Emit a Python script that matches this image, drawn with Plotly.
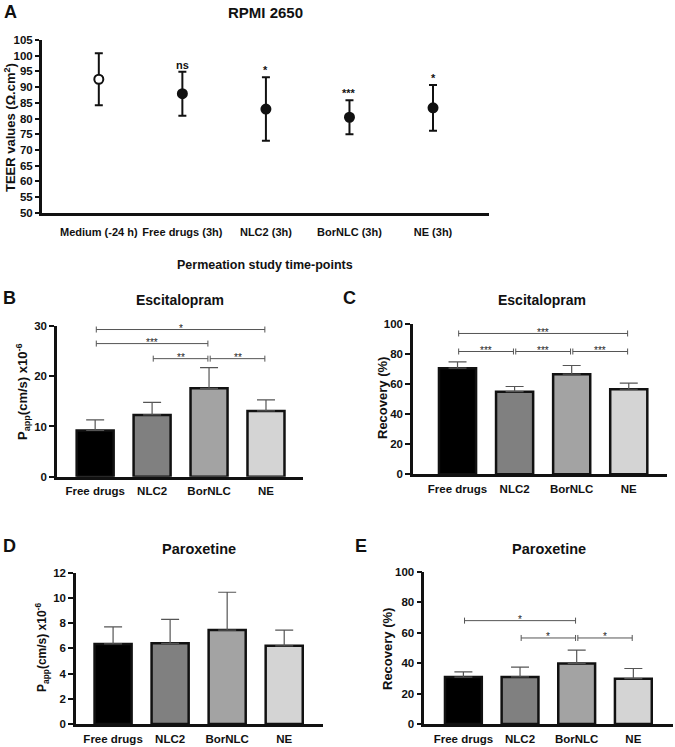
import plotly.graph_objects as go

W, H = 675, 747

# ---- data ----
teer_cats = ["Medium (-24 h)", "Free drugs (3h)", "NLC2 (3h)", "BorNLC (3h)", "NE (3h)"]
teer_mean = [92.5, 87.9, 83.0, 80.4, 83.4]
teer_sd = [8.3, 7.0, 10.1, 5.4, 7.3]
teer_sig = ["", "ns", "*", "***", "*"]

groups = ["Free drugs", "NLC2", "BorNLC", "NE"]

esc_papp_mean = [9.2, 12.3, 17.6, 13.1]
esc_papp_sd = [2.1, 2.5, 4.1, 2.2]
esc_papp_comps = [(0, 3, 29.3, "*"), (0, 2, 26.5, "***"), (1, 2, 23.5, "**"), (2, 3, 23.5, "**")]

esc_rec_mean = [70.6, 55.0, 66.6, 56.6]
esc_rec_sd = [4.2, 3.4, 5.8, 4.0]
esc_rec_comps = [(0, 3, 93.7, "***"), (0, 1, 81.7, "***"), (1, 2, 81.7, "***"), (2, 3, 81.7, "***")]

par_papp_mean = [6.35, 6.4, 7.45, 6.2]
par_papp_sd = [1.35, 1.9, 3.0, 1.25]
par_papp_comps = []

par_rec_mean = [30.9, 31.0, 39.8, 29.8]
par_rec_sd = [3.4, 6.4, 8.8, 6.7]
par_rec_comps = [(0, 2, 68.0, "*"), (1, 2, 56.6, "*"), (2, 3, 56.6, "*")]

bar_colors = ["#000000", "#808080", "#a3a3a3", "#d4d4d4"]

ARIAL = "Arial, Liberation Sans, sans-serif"
INK = "#111111"


def px_x(p):
    return p / W


def px_y(p):
    return 1 - p / H


fig = go.Figure()

# ---- panel A ----
fig.add_trace(go.Scatter(
    x=teer_cats, y=teer_mean, mode="markers", xaxis="x", yaxis="y",
    error_y=dict(type="data", array=teer_sd, color=INK, thickness=2, width=4),
    marker=dict(size=9, color=["white"] + [INK] * 4, line=dict(color=INK, width=2)),
    showlegend=False,
))
for c, m, s, t in zip(teer_cats, teer_mean, teer_sd, teer_sig):
    if t:
        fig.add_annotation(x=c, y=m + s, xref="x", yref="y", text=t, showarrow=False,
                           yanchor="middle", yshift=7,
                           font=dict(family=ARIAL, size=11, color=INK, weight="bold"))

# ---- bar panels ----
panels = [
    ("2", esc_papp_mean, esc_papp_sd, esc_papp_comps),
    ("3", esc_rec_mean, esc_rec_sd, esc_rec_comps),
    ("4", par_papp_mean, par_papp_sd, par_papp_comps),
    ("5", par_rec_mean, par_rec_sd, par_rec_comps),
]

for n, mean, sd, comps in panels:
    fig.add_trace(go.Bar(
        x=groups, y=mean, xaxis="x" + n, yaxis="y" + n, width=0.65,
        marker=dict(color=bar_colors, line=dict(color=INK, width=2.5)),
        error_y=dict(type="data", array=sd, arrayminus=[0] * len(sd), symmetric=False,
                     color="#555555", thickness=1.2, width=9),
        showlegend=False,
    ))
    g = 0.02
    for i, j, lev, lab in comps:
        xa, xb = i + g, j - g
        fig.add_shape(type="line", xref="x" + n, yref="y" + n, x0=xa, x1=xb, y0=lev, y1=lev,
                      line=dict(color="#555555", width=1))
        for xe in (xa, xb):
            fig.add_shape(type="line", xref="x" + n, yref="y" + n, ysizemode="pixel", yanchor=lev,
                          x0=xe, x1=xe, y0=-3, y1=3, line=dict(color="#555555", width=1))
        fig.add_annotation(x=(i + j) / 2, y=lev, xref="x" + n, yref="y" + n, text=lab,
                           showarrow=False, yanchor="middle", yshift=1,
                           font=dict(family=ARIAL, size=10, color="#222222"))

# ---- axes ----
yax_common = dict(ticks="outside", tickwidth=2, tickcolor=INK, showline=True,
                  linecolor=INK, showgrid=False, zeroline=False, automargin=False)
xax_common = dict(ticks="", showline=True, linecolor=INK, showgrid=False, zeroline=False,
                  automargin=False, tickangle=0)
bar_font = dict(family=ARIAL, size=11.5, color=INK, weight="bold")

layout_axes = dict(
    xaxis=dict(domain=[px_x(42), px_x(489)], anchor="y", range=[-0.68, 4.67], linewidth=3,
               tickfont=dict(family=ARIAL, size=11, color=INK, weight="bold"),
               ticklabelstandoff=7, **xax_common),
    yaxis=dict(domain=[px_y(212.7), px_y(40)], anchor="x", range=[50, 105], dtick=5,
               linewidth=3, ticklen=4,
               tickfont=dict(family=ARIAL, size=11.5, color=INK, weight="bold"),
               **yax_common),
)

bar_boxes = {
    "2": ((57, 303), (326, 476.7), [-0.67, 3.65], [0, 30], 10),
    "3": ((413, 667), (324, 474.3), [-0.78, 3.67], [0, 100], 20),
    "4": ((76, 323), (572.7, 724), [-0.65, 3.68], [0, 12], 2),
    "5": ((424.3, 673), (572, 724), [-0.69, 3.70], [0, 100], 20),
}
for n, (xs, ys, xr, yr, dt) in bar_boxes.items():
    layout_axes["xaxis" + n] = dict(domain=[px_x(xs[0]), px_x(xs[1])], anchor="y" + n, range=xr,
                                    linewidth=2.5, tickfont=bar_font, ticklabelstandoff=2,
                                    **xax_common)
    layout_axes["yaxis" + n] = dict(domain=[px_y(ys[1]), px_y(ys[0])], anchor="x" + n, range=yr,
                                    dtick=dt, linewidth=2.5, ticklen=5, tickfont=bar_font,
                                    **yax_common)

fig.update_layout(
    width=W, height=H, margin=dict(l=0, r=0, t=0, b=0, autoexpand=False),
    paper_bgcolor="white", plot_bgcolor="white", bargap=0.35,
    **layout_axes,
)

# ---- free text: titles, panel letters, axis titles ----
texts = [
    # (text, x_px, y_px, size, angle)
    ("A", 10, 12, 18, 0),
    ("RPMI 2650", 265, 13, 15, 0),
    ("TEER values (Ω.cm<sup>2</sup>)", 10, 128, 13, -90),
    ("Permeation study time-points", 265, 265, 12.5, 0),
    ("B", 9, 298, 18, 0),
    ("Escitalopram", 180, 300, 14, 0),
    ("P<sub>app</sub>(cm/s) x10<sup>-6</sup>", 23, 392, 13, -90),
    ("C", 349, 298, 18, 0),
    ("Escitalopram", 542, 300, 14, 0),
    ("Recovery (%)", 382, 398, 13, -90),
    ("D", 9, 546, 18, 0),
    ("Paroxetine", 199, 549, 14.5, 0),
    ("P<sub>app</sub>(cm/s) x10<sup>-6</sup>", 42, 648, 12, -90),
    ("E", 361, 546, 18, 0),
    ("Paroxetine", 549, 549, 14.5, 0),
    ("Recovery (%)", 387, 649, 13, -90),
]
for t, x, y, sz, ang in texts:
    fig.add_annotation(text=t, x=px_x(x), y=px_y(y), xref="paper", yref="paper",
                       showarrow=False, xanchor="center", yanchor="middle", textangle=ang,
                       font=dict(family=ARIAL, size=sz, color=INK, weight="bold"))

# the page's default body margin would push the 675x747 figure off the window
fig.write_html("out.html", config={"displayModeBar": False},
               post_script="document.body.style.margin='0px';")
